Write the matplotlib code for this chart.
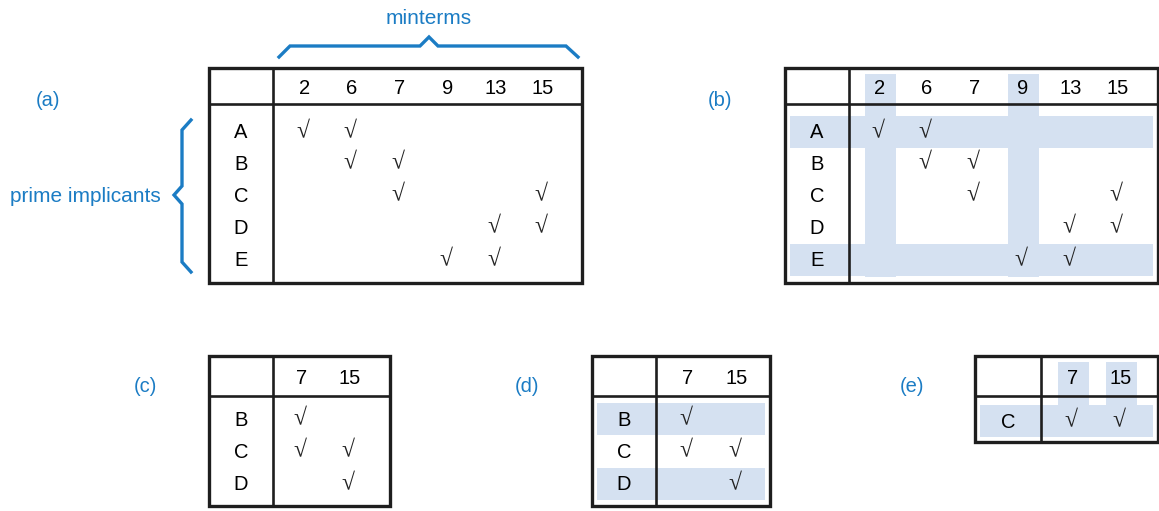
import matplotlib.pyplot as plt
from matplotlib.patches import Rectangle

plt.rcParams["font.family"] = ["Liberation Sans", "DejaVu Sans"]

BLUE = "#1b7cc4"
BAND = "#d5e1f1"
INK = "#1e1e1e"
NARROW = ["Liberation Sans Narrow", "Liberation Sans", "DejaVu Sans"]

# table contents
minterms_full = [2, 6, 7, 9, 13, 15]
implicants_full = ["A", "B", "C", "D", "E"]
covers_full = {"A": [2, 6], "B": [6, 7], "C": [7, 15], "D": [13, 15], "E": [9, 13]}

minterms_small = [7, 15]
implicants_small = ["B", "C", "D"]
covers_small = {"B": [7], "C": [7, 15], "D": [15]}

implicants_last = ["C"]
covers_last = {"C": [7, 15]}

# highlighted rows / columns per panel
hl_rows_b = ["A", "E"]
hl_cols_b = [2, 9]
hl_rows_d = ["B", "D"]
hl_rows_e = ["C"]
hl_cols_e = [7, 15]

panel_labels = ["(a)", "(b)", "(c)", "(d)", "(e)"]


def draw_table(ax, x0, x1, y0, yh, y1, xdiv, col_x, row_y, cols, rows, covers,
               hl_rows=(), hl_cols=()):
    lab_x = (x0 + xdiv) / 2
    # shading first
    for c in hl_cols:
        cx = col_x[cols.index(c)]
        ax.add_patch(Rectangle((cx - 15.5, y0 + 6), 31, y1 - y0 - 12,
                               facecolor=BAND, edgecolor="none", zorder=1))
    for r in hl_rows:
        ry = row_y[rows.index(r)]
        ax.add_patch(Rectangle((x0 + 5, ry - 15), x1 - x0 - 10, 32,
                               facecolor=BAND, edgecolor="none", zorder=1))
    # grid
    ax.add_patch(Rectangle((x0, y0), x1 - x0, y1 - y0, fill=False,
                           edgecolor=INK, lw=2.4, zorder=3))
    ax.plot([x0, x1], [yh, yh], color=INK, lw=1.9, zorder=3)
    ax.plot([xdiv, xdiv], [y0, y1], color=INK, lw=1.9, zorder=3)
    # header numbers
    for c, cx in zip(cols, col_x):
        ax.text(cx, (y0 + yh) / 2 + 3, str(c), ha="center", va="center",
                fontsize=14.5, color="black", zorder=4)
    # rows and checks
    for r, ry in zip(rows, row_y):
        ax.text(lab_x, ry + 2, r, ha="center", va="center", fontsize=14.5,
                color="black", zorder=4)
        for c in covers[r]:
            cx = col_x[cols.index(c)]
            ax.text(cx - 2, ry + 2, "\u221a", ha="center", va="center",
                    fontsize=17, family=["Liberation Serif", "DejaVu Serif"],
                    color="#222222", zorder=4)


fig = plt.figure(figsize=(11.59, 5.11), dpi=100)
ax = fig.add_axes([0, 0, 1, 1])
ax.set_xlim(0, 1159)
ax.set_ylim(511, 0)
ax.axis("off")

row_y_full = [131, 162, 194, 226, 259]
col_x_a = [305, 352, 400, 448, 496, 543]

# (a)
draw_table(ax, 209, 582, 68, 104, 283, 273, col_x_a, row_y_full,
           minterms_full, implicants_full, covers_full)
# (b)
col_x_b = [x + 575 for x in col_x_a]
draw_table(ax, 785, 1158, 68, 104, 283, 849, col_x_b, row_y_full,
           minterms_full, implicants_full, covers_full,
           hl_rows=hl_rows_b, hl_cols=hl_cols_b)
# (c)
row_y_small = [418, 450, 483]
draw_table(ax, 209, 390, 356, 396, 506, 273, [302, 350], row_y_small,
           minterms_small, implicants_small, covers_small)
# (d)
draw_table(ax, 592, 770, 356, 396, 506, 656, [688, 737], row_y_small,
           minterms_small, implicants_small, covers_small,
           hl_rows=hl_rows_d)
# (e)
draw_table(ax, 975, 1158, 356, 396, 442, 1041, [1073, 1121], [420],
           minterms_small, implicants_last, covers_last,
           hl_rows=hl_rows_e, hl_cols=hl_cols_e)

# panel labels
for lab, (lx, ly) in zip(panel_labels, [(48, 101), (720, 101), (145, 387),
                                        (527, 387), (912, 387)]):
    ax.text(lx, ly, lab, ha="center", va="center", fontsize=14.5, color=BLUE,
            family=NARROW)

# minterms brace
ax.plot([279, 290, 420, 429, 438, 566, 578], [57, 46, 46, 37, 46, 46, 57],
        color=BLUE, lw=2.4, solid_joinstyle="miter")
ax.text(429, 18, "minterms", ha="center", va="center", fontsize=15,
        color=BLUE, family=NARROW)

# prime implicants brace
ax.plot([191, 182, 182, 174, 182, 182, 191], [120, 130, 186, 195, 204, 262, 272],
        color=BLUE, lw=2.4, solid_joinstyle="miter")
ax.text(85, 196, "prime implicants", ha="center", va="center", fontsize=15,
        color=BLUE, family=NARROW)

fig.savefig("out.png", dpi=100)
